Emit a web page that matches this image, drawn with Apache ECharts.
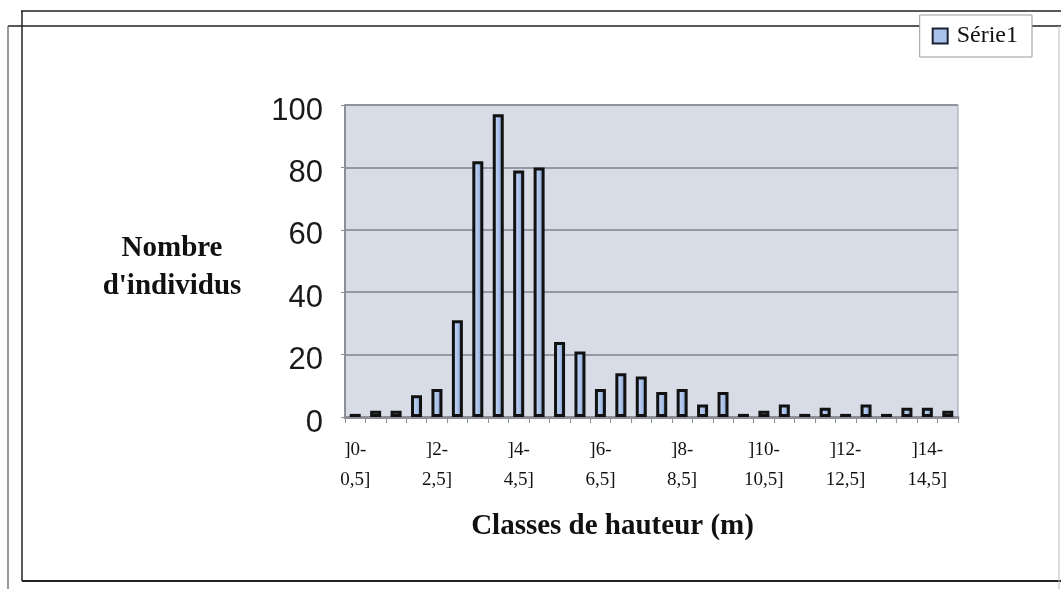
<!DOCTYPE html>
<html>
<head>
<meta charset="utf-8">
<script src="https://cdn.jsdelivr.net/npm/echarts@6/dist/echarts.min.js"></script>
<style>
  html, body { margin: 0; padding: 0; background: #fff; }
  #chart { width: 1061px; height: 589px; }
</style>
</head>
<body>
<div id="chart"></div>
<script>
// classes de hauteur (m), pas de 0,5 m
const classes = [
  ']0-0,5]', ']0,5-1]', ']1-1,5]', ']1,5-2]', ']2-2,5]', ']2,5-3]',
  ']3-3,5]', ']3,5-4]', ']4-4,5]', ']4,5-5]', ']5-5,5]', ']5,5-6]',
  ']6-6,5]', ']6,5-7]', ']7-7,5]', ']7,5-8]', ']8-8,5]', ']8,5-9]',
  ']9-9,5]', ']9,5-10]', ']10-10,5]', ']10,5-11]', ']11-11,5]', ']11,5-12]',
  ']12-12,5]', ']12,5-13]', ']13-13,5]', ']13,5-14]', ']14-14,5]', ']14,5-15]'
];
// nombre d'individus par classe
const serie1 = [
  1, 2, 2, 7, 9, 31, 82, 97, 79, 80, 24, 21, 9, 14, 13,
  8, 9, 4, 8, 1, 2, 4, 1, 3, 1, 4, 1, 3, 3, 2
];
const yTicks = [0, 20, 40, 60, 80, 100];

const chart = echarts.init(document.getElementById('chart'));

const serif = 'Liberation Serif';

chart.setOption({
  animation: false,
  backgroundColor: '#fff',
  title: {
    text: "Nombre\nd'individus",
    left: 167,
    top: 225,
    textAlign: 'center',
    textStyle: {
      fontFamily: serif,
      fontWeight: 'bold',
      fontSize: 29,
      lineHeight: 38,
      color: '#111'
    }
  },
  legend: {
    data: ['Série1'],
    right: 29,
    top: 15,
    padding: [9, 14, 9, 12],
    backgroundColor: '#fff',
    borderColor: '#9a9a9a',
    borderWidth: 1,
    itemWidth: 15,
    itemHeight: 15,
    itemGap: 6,
    icon: 'rect',
    itemStyle: { color: '#a9c2ea', borderColor: '#1b2233', borderWidth: 2 },
    textStyle: { fontFamily: serif, fontSize: 24, color: '#111', padding: [0, 0, 0, 4] }
  },
  grid: {
    left: 345,
    right: 103,
    top: 105,
    bottom: 172,
    show: true,
    backgroundColor: '#d8dce7',
    borderColor: '#9aa0ab',
    borderWidth: 1
  },
  xAxis: {
    type: 'category',
    data: classes,
    name: 'Classes de hauteur (m)',
    nameLocation: 'middle',
    nameGap: 95,
    nameTextStyle: {
      fontFamily: serif, fontWeight: 'bold', fontSize: 29, color: '#111',
      padding: [0, 78, 0, 0]
    },
    axisLine: { lineStyle: { color: '#8c8f96', width: 3 } },
    axisTick: { show: true, interval: 0, length: 6, lineStyle: { color: '#8c8f96' } },
    axisLabel: {
      interval: 3,
      margin: 18,
      fontFamily: serif,
      fontSize: 19,
      lineHeight: 30,
      color: '#111',
      formatter: function (v) {
        const i = v.indexOf('-');
        return v.slice(0, i + 1) + '\n' + v.slice(i + 1);
      }
    }
  },
  yAxis: {
    type: 'value',
    min: 0,
    max: 100,
    interval: 20,
    axisLine: { show: true, lineStyle: { color: '#8c8f96', width: 2 } },
    axisTick: { show: true, length: 4, lineStyle: { color: '#8c8f96' } },
    splitLine: { lineStyle: { color: '#7e828c', width: 1.5 } },
    axisLabel: {
      margin: 22,
      verticalAlign: 'top',
      lineHeight: 12,
      fontFamily: 'Liberation Sans',
      fontSize: 31,
      color: '#1a1a1a',
      formatter: function (v) { return yTicks.indexOf(v) >= 0 ? String(v) : ''; }
    }
  },
  series: [{
    name: 'Série1',
    type: 'bar',
    data: serie1,
    barWidth: 11,
    itemStyle: {
      color: new echarts.graphic.LinearGradient(0, 0, 1, 0, [
        { offset: 0, color: '#cddcf4' },
        { offset: 0.55, color: '#a9c2ea' },
        { offset: 1, color: '#6d83b3' }
      ]),
      borderColor: '#111',
      borderWidth: 3
    }
  }],
  graphic: [
    // cadres du document scanné
    { type: 'line', shape: { x1: 21, y1: 11, x2: 1061, y2: 11 }, style: { stroke: '#222', lineWidth: 1.5 } },
    { type: 'line', shape: { x1: 8, y1: 26, x2: 1061, y2: 26 }, style: { stroke: '#222', lineWidth: 1.5 } },
    { type: 'line', shape: { x1: 22, y1: 11, x2: 22, y2: 581 }, style: { stroke: '#222', lineWidth: 1.5 } },
    { type: 'line', shape: { x1: 8, y1: 26, x2: 8, y2: 589 }, style: { stroke: '#555', lineWidth: 1.2 } },
    { type: 'line', shape: { x1: 22, y1: 581, x2: 1061, y2: 581 }, style: { stroke: '#222', lineWidth: 2 } },
    { type: 'line', shape: { x1: 1059, y1: 26, x2: 1059, y2: 589 }, style: { stroke: '#bbb', lineWidth: 1 } }
  ]
});
</script>
</body>
</html>
